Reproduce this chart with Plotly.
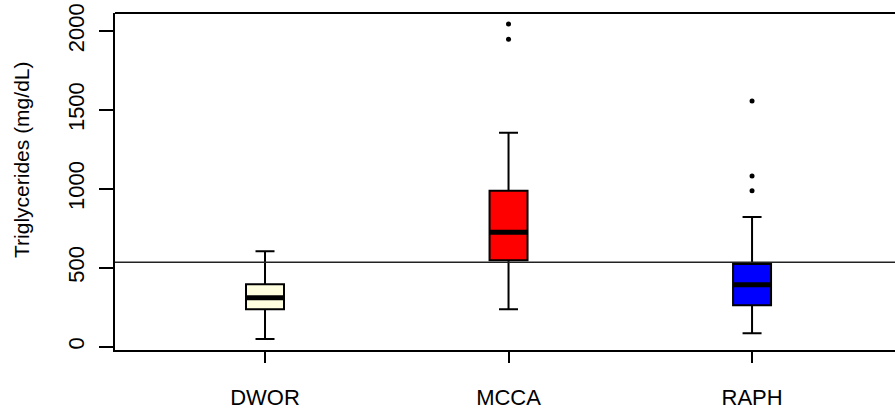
import plotly.graph_objects as go

categories = ["DWOR", "MCCA", "RAPH"]
positions = [1, 2, 3]
lower_whisker = [49, 237, 85]
q1 = [237, 547, 262]
median = [310, 725, 393]
q3 = [395, 988, 524]
upper_whisker = [604, 1356, 822]
outliers = [[], [1947, 2044], [988, 1081, 1557]]
fill_colors = ["#FFFFE0", "#FF0000", "#0000FF"]
ref_line = 535
y_ticks = [0, 500, 1000, 1500, 2000]
y_title = "Triglycerides (mg/dL)"

box_w = 0.156
FONT = "Liberation Sans, Arial, sans-serif"

fig = go.Figure()
for i, cat in enumerate(categories):
    fig.add_trace(go.Box(
        x=[positions[i]], q1=[q1[i]], median=[median[i]], q3=[q3[i]],
        lowerfence=[lower_whisker[i]], upperfence=[upper_whisker[i]],
        width=box_w, whiskerwidth=0.5, fillcolor=fill_colors[i],
        line=dict(color="black", width=2), boxpoints=False,
        showlegend=False, hoverinfo="skip", name=cat))
    fig.add_trace(go.Scatter(
        x=[positions[i] - box_w / 2, positions[i] + box_w / 2],
        y=[median[i], median[i]], mode="lines",
        line=dict(color="black", width=5), showlegend=False, hoverinfo="skip"))
    if outliers[i]:
        fig.add_trace(go.Scatter(
            x=[positions[i]] * len(outliers[i]), y=outliers[i], mode="markers",
            marker=dict(color="black", size=5), showlegend=False, hoverinfo="skip"))

fig.add_hline(y=ref_line, line=dict(color="#222222", width=1.5))
fig.add_shape(type="line", xref="paper", yref="paper", x0=0, x1=1, y0=1, y1=1,
              line=dict(color="black", width=2))

fig.add_annotation(text=y_title, xref="paper", yref="paper", x=-0.1192, y=0.564,
                   xanchor="center", yanchor="middle", textangle=-90,
                   showarrow=False, font=dict(size=21))

fig.update_layout(
    width=895, height=411,
    margin=dict(l=115, r=0, t=13, b=61),
    plot_bgcolor="white", paper_bgcolor="white",
    font=dict(family=FONT, size=20, color="black"),
    xaxis=dict(range=[0.384, 3.587], tickvals=positions, ticktext=categories,
               showgrid=False, zeroline=False, showline=True, linecolor="black",
               linewidth=2, ticks="outside", ticklen=11, tickwidth=1.5,
               tickcolor="black", ticklabelstandoff=16, automargin=False,
               tickfont=dict(size=22)),
    yaxis=dict(range=[-21, 2114], tickvals=y_ticks, tickangle=-90,
               showgrid=False, zeroline=False, showline=True, linecolor="black",
               linewidth=2, ticks="outside", ticklen=14, tickwidth=1.5,
               tickcolor="black", ticklabelstandoff=6, automargin=False,
               tickfont=dict(size=22)),
)

fig.write_html("out.html", config={"displayModeBar": False},
               post_script="document.body.style.margin='0px';document.body.style.overflow='hidden';")
